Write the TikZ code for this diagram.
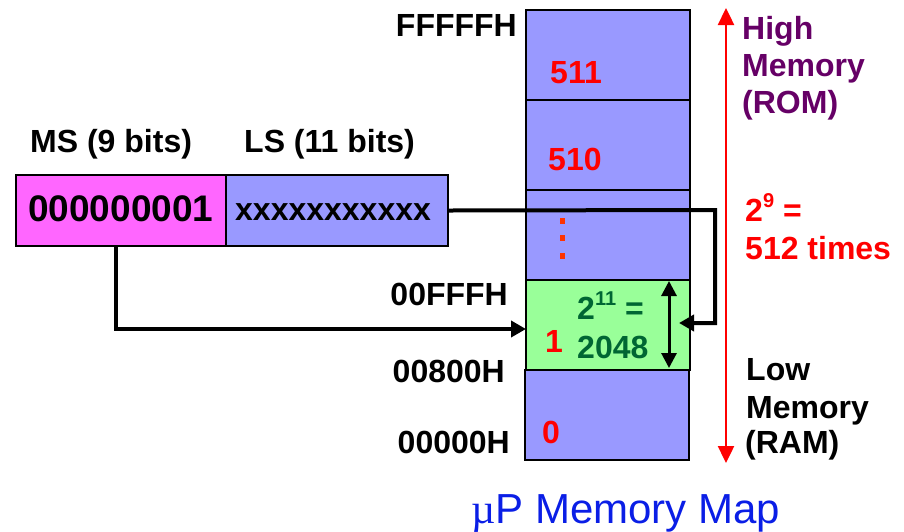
\documentclass[tikz,border=0pt]{standalone}
\usepackage{fontspec}
\setmainfont{Liberation Sans}
\newfontfamily\symfont{Liberation Serif}
\usetikzlibrary{arrows.meta}

\definecolor{memblue}{HTML}{9999FF}
\definecolor{msmag}{HTML}{FF66FF}
\definecolor{pagegreen}{HTML}{99FF99}
\definecolor{rompurple}{HTML}{660066}
\definecolor{sizegreen}{HTML}{006633}
\definecolor{dotred}{HTML}{FF3300}
\definecolor{capblue}{HTML}{0A1EE6}

\begin{document}
\begin{tikzpicture}[x=1pt,y=-1pt,
  block/.style={draw=black, line width=2.2pt, fill=memblue, inner sep=0pt,
                minimum width=164pt, minimum height=90pt},
  regbox/.style={draw=black, line width=2.2pt, inner sep=0pt, minimum height=71pt},
  lbl/.style={inner sep=0pt, font=\fontsize{32}{38}\selectfont\bfseries},
  num/.style={lbl, text=red},
  conn/.style={line width=4pt, -{Triangle[length=15pt,width=16pt]}},
]
\useasboundingbox (0,0) rectangle (904,531);

% memory column, one block per 2 KB page
\node[block] (blk511) at (608,55) {};
\node[block] (blk510) at (608,145) {};
\node[block] (blkdots) at (608,235) {};
\node[block, fill=pagegreen] (blk1) at (608,325) {};
\node[block] (blk0) at (607,415) {};

% page numbers
\node[num, anchor=base west] (n511) at (550,83) {511};
\node[num, anchor=base west] (n510) at (548,170) {510};
\node[num, anchor=base west] (n1) at (545,352) {1};
\node[num, anchor=base west] (n0) at (542,443) {0};
\foreach \y in {221,238,256}
  \fill[dotred] (559.5,\y-2.7) rectangle ++(5.4,5.4);

% page size inside page 1
\node[lbl, text=sizegreen, anchor=base west] (pgsize) at (577,319)
  {2\raisebox{0.42em}{\fontsize{20}{20}\selectfont 11} =};
\node[lbl, text=sizegreen, anchor=base west] (pgnum) at (577,358) {2048};
\coordinate (spantop) at (669,281);
\coordinate (spanbot) at (669,368);
\draw[line width=3pt, {Triangle[length=15pt,width=15pt]}-{Triangle[length=15pt,width=15pt]}]
  (spantop) -- (spanbot);

% addresses
\node[lbl, anchor=base east] (aFFFFF) at (517,36) {FFFFFH};
\node[lbl, anchor=base east] (a0FFFF) at (508,305) {00FFFH};
\node[lbl, anchor=base east] (a00800) at (505,382) {00800H};
\node[lbl, anchor=base east] (a00000) at (510,453) {00000H};

% address register
\node[regbox, fill=msmag, minimum width=210pt] (ms) at (121,210.5) {};
\node[regbox, fill=memblue, minimum width=222pt] (ls) at (337,210.5) {};
\node[lbl, anchor=base west] (mshead) at (30,152) {MS (9 bits)};
\node[lbl, anchor=base west] (lshead) at (244,152) {LS (11 bits)};
\node[lbl, anchor=base west, font=\fontsize{37}{40}\selectfont\bfseries] (msval) at (28,221) {000000001};
\node[lbl, anchor=base west] (lsval) at (235,220) {xxxxxxxxxxx};

% register fields pointing into the map
\coordinate (lsturn) at (715,210);
\coordinate (lsin) at (679,323);
\draw[conn] (ls.east) -- (lsturn) |- (lsin);
\coordinate (msdrop) at (116,246);
\coordinate (msin) at (526,329);
\draw[conn] (msdrop) |- (msin);

% overall span of the map
\coordinate (spanhi) at (726,8);
\coordinate (spanlo) at (726,463);
\draw[red, line width=2.4pt, {Triangle[length=17pt,width=16pt]}-{Triangle[length=17pt,width=16pt]}]
  (spanhi) -- (spanlo);

% side notes
\node[lbl, text=rompurple, anchor=base west] (hi1) at (742,39) {High};
\node[lbl, text=rompurple, anchor=base west] (hi2) at (742,76) {Memory};
\node[lbl, text=rompurple, anchor=base west] (hi3) at (742,113) {(ROM)};
\node[lbl, text=red, anchor=base west] (rep1) at (745,221)
  {2\raisebox{0.42em}{\fontsize{20}{20}\selectfont 9} =};
\node[lbl, text=red, anchor=base west] (rep2) at (745,259) {512 times};
\node[lbl, anchor=base west] (lo1) at (746,380) {Low};
\node[lbl, anchor=base west] (lo2) at (746,418) {Memory};
\node[lbl, anchor=base west] (lo3) at (745,453) {(RAM)};

% caption
\node[inner sep=0pt, anchor=base west, text=capblue, font=\fontsize{42}{46}\selectfont]
  (caption) at (471,523) {{\symfont µ}P Memory Map};
\end{tikzpicture}
\end{document}
